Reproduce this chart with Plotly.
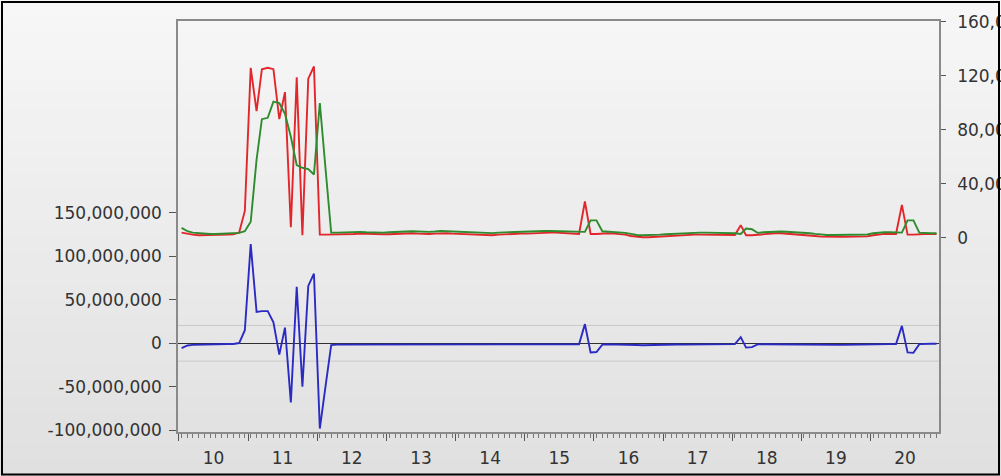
import plotly.graph_objects as go

# ---------------- data (values in millions) ----------------
YEARS = list(range(2010, 2021))
MONTHS = [f"{y}-{m:02d}-15" for y in YEARS for m in range(1, 13)]

ACTUAL = [
    4.0, 3.0, 2.5, 2.0, 2.0, 2.0, 2.2, 2.2, 2.5, 2.8, 4.0, 20.0,          # 2010
    126, 94, 125, 126, 125, 88, 108, 8, 119, 2, 118, 127,                 # 2011
    2.5, 2.5, 2.5, 2.8, 3.0, 3.0, 3.0, 3.2, 3.0, 3.0, 2.8, 2.8,           # 2012
    2.8, 3.0, 3.2, 3.5, 3.5, 3.2, 3.0, 3.0, 3.2, 3.5, 3.5, 3.2,           # 2013
    3.0, 2.8, 2.5, 2.2, 2.0, 1.8, 2.0, 2.5, 2.8, 3.0, 3.0, 3.2,           # 2014
    3.2, 3.5, 3.5, 3.8, 4.0, 4.0, 3.8, 3.5, 3.2, 3.0, 27.0, 3.0,          # 2015
    3.0, 3.5, 3.5, 3.2, 3.0, 2.5, 1.5, 0.8, 0.5, 0.5, 0.8, 1.0,           # 2016
    1.2, 1.5, 2.0, 2.2, 2.5, 2.5, 2.5, 2.5, 2.5, 2.5, 2.3, 2.2,           # 2017
    2.2, 9.5, 2.0, 2.0, 2.5, 3.0, 3.2, 3.5, 3.5, 3.2, 3.0, 2.8,           # 2018
    2.5, 2.0, 1.5, 1.0, 0.8, 0.8, 0.8, 0.8, 0.8, 1.0, 1.0, 1.2,           # 2019
    2.0, 2.8, 3.0, 3.0, 3.0, 24.5, 2.5, 2.5, 3.0, 3.0, 3.0, 3.0,          # 2020
]
FITTED = [
    7.5, 5.0, 4.0, 3.5, 3.2, 3.0, 3.0, 3.2, 3.2, 3.5, 3.8, 5.0,           # 2010
    12, 58, 88, 89, 101, 100, 92, 75, 54, 52, 51, 47,                     # 2011
    100, 50, 4.0, 4.0, 4.2, 4.2, 4.5, 4.5, 4.2, 4.0, 4.0, 4.0,            # 2012
    4.2, 4.5, 4.8, 5.0, 5.0, 4.8, 4.5, 4.5, 4.8, 5.2, 5.0, 4.8,           # 2013
    4.5, 4.2, 4.0, 3.8, 3.5, 3.5, 3.6, 4.0, 4.2, 4.5, 4.5, 4.6,           # 2014
    4.6, 4.8, 5.0, 5.2, 5.2, 5.0, 4.8, 4.6, 4.4, 4.2, 4.5, 13.0,          # 2015
    13.0, 5.0, 4.8, 4.5, 4.2, 3.8, 3.0, 2.2, 2.0, 2.0, 2.2, 2.5,          # 2016
    2.8, 3.0, 3.5, 3.8, 4.0, 4.0, 4.0, 4.0, 4.0, 4.0, 3.8, 3.6,           # 2017
    3.5, 3.0, 7.0, 6.5, 3.8, 4.2, 4.5, 4.8, 4.8, 4.6, 4.4, 4.2,           # 2018
    4.0, 3.5, 3.0, 2.5, 2.2, 2.2, 2.2, 2.2, 2.2, 2.4, 2.4, 2.6,           # 2019
    3.5, 4.0, 4.2, 4.2, 4.2, 4.0, 13.0, 13.0, 4.0, 3.5, 3.5, 3.5,         # 2020
]
RESIDUAL = [
    -5.5, -2.5, -1.8, -1.5, -1.3, -1.2, -1.0, -1.0, -0.8, -0.8, 0.3, 15.0,     # 2010
    114, 36, 37, 37, 24, -13, 18, -68, 65, -50, 66, 80,                        # 2011
    -98, -48, -2.0, -1.5, -1.5, -1.3, -1.5, -1.3, -1.2, -1.0, -1.2, -1.2,      # 2012
    -1.4, -1.5, -1.6, -1.5, -1.5, -1.6, -1.5, -1.5, -1.6, -1.7, -1.5, -1.6,    # 2013
    -1.5, -1.4, -1.5, -1.6, -1.5, -1.7, -1.6, -1.5, -1.4, -1.5, -1.5, -1.4,    # 2014
    -1.4, -1.3, -1.5, -1.4, -1.2, -1.0, -1.0, -1.1, -1.2, -1.2, 22.0, -10.5,   # 2015
    -10.0, -1.5, -1.3, -1.3, -1.2, -1.3, -1.5, -2.0, -2.2, -2.0, -1.6, -1.5,   # 2016
    -1.6, -1.5, -1.4, -1.5, -1.5, -1.4, -1.5, -1.5, -1.6, -1.7, -1.5, -1.2,    # 2017
    -1.0, 7.0, -5.0, -4.5, -1.3, -1.2, -1.3, -1.3, -1.3, -1.4, -1.4, -1.4,     # 2018
    -1.5, -1.6, -1.8, -2.0, -2.2, -2.0, -1.8, -1.8, -1.8, -1.6, -1.5, -1.4,    # 2019
    -1.2, -1.0, -1.0, -1.0, -0.8, 20.0, -10.5, -11.0, -1.0, -0.5, -0.5, -0.5,  # 2020
]
SE = 20.5  # standard error of regression, millions

LEFT_TICK_VALUES = [-100, -50, 0, 50, 100, 150]
LEFT_TICK_TEXT = ["-100,000,000", "-50,000,000", "0", "50,000,000",
                  "100,000,000", "150,000,000"]
RIGHT_TICK_VALUES = [0, 40, 80, 120, 160]
RIGHT_TICK_TEXT = ["0", "40,000,000", "80,000,000", "120,000,000", "160,000,000"]

# ---------------- layout geometry ----------------
W, H = 1001, 476
ML, MR, MT, MB = 178, 62, 21, 44
PW, PH = W - ML - MR, H - MT - MB


def px_x(p):
    return (p - ML) / PW


def px_y(p):
    return (H - MB - p) / PH


TEXT = "#333333"
FONT = dict(family="DejaVu Sans", size=17, color=TEXT)
FRAME = "#8a8a8a"

fig = go.Figure()
fig.add_trace(go.Scatter(x=MONTHS, y=RESIDUAL, name="Residual", mode="lines",
                         line=dict(color="#2b2bc4", width=1.9), yaxis="y"))
fig.add_trace(go.Scatter(x=MONTHS, y=ACTUAL, name="Actual", mode="lines",
                         line=dict(color="#e3262b", width=1.9), yaxis="y2"))
fig.add_trace(go.Scatter(x=MONTHS, y=FITTED, name="Fitted", mode="lines",
                         line=dict(color="#2e8b2e", width=1.9), yaxis="y2"))

shapes = []
# background gradient of the outer panel
n = 30
top, bot = px_y(0), px_y(H)
for k in range(n):
    c0 = (247, 247, 247)
    c1 = (224, 224, 224)
    t = k / (n - 1)
    col = tuple(round(a + (b - a) * t) for a, b in zip(c0, c1))
    y0 = top - (top - bot) * k / n
    y1 = top - (top - bot) * (k + 1) / n
    shapes.append(dict(type="rect", xref="paper", yref="paper",
                       x0=px_x(0), x1=px_x(W), y0=y1, y1=y0 + 0.002,
                       fillcolor="rgb(%d,%d,%d)" % col, line=dict(width=0),
                       layer="below"))
# +/- 1 S.E. lines
for v in (SE, -SE):
    shapes.append(dict(type="line", xref="paper", yref="y", x0=0, x1=1,
                       y0=v, y1=v, line=dict(color="#c8c8c8", width=1),
                       layer="below"))
# outer black border
shapes.append(dict(type="rect", xref="paper", yref="paper",
                   x0=px_x(2), x1=px_x(999), y0=px_y(474.5), y1=px_y(2),
                   line=dict(color="black", width=2), fillcolor="rgba(0,0,0,0)",
                   layer="above"))

fig.update_layout(
    width=W, height=H,
    margin=dict(l=ML, r=MR, t=MT, b=MB, pad=0),
    paper_bgcolor="#ececec",
    plot_bgcolor="white",
    showlegend=False,
    font=FONT,
    shapes=shapes,
    xaxis=dict(
        type="date",
        range=["2009-12-27", "2020-12-28"],
        tick0="2010-01-01", dtick="M12", tickformat="%y",
        ticklabelmode="period",
        ticks="outside", ticklen=7, tickwidth=1, tickcolor="#555555",
        minor=dict(dtick="M1", tick0="2010-01-15", ticks="outside",
                   ticklen=4, tickwidth=1, tickcolor="#777777", showgrid=False),
        showline=True, linecolor=FRAME, linewidth=1.5, mirror=True,
        showgrid=False, zeroline=False, automargin=False,
        tickfont=FONT, ticklabelstandoff=3,
    ),
    yaxis=dict(
        range=[-102, 370.5],
        tickmode="array", tickvals=LEFT_TICK_VALUES, ticktext=LEFT_TICK_TEXT,
        ticks="outside", ticklen=7, tickcolor="#555555",
        showline=True, linecolor=FRAME, linewidth=1.5, mirror=True,
        showgrid=False, zeroline=True, zerolinecolor="#303030", zerolinewidth=1,
        automargin=False, tickfont=FONT, ticklabelstandoff=4,
    ),
    yaxis2=dict(
        range=[-143.7, 160.7], overlaying="y", side="right",
        tickmode="array", tickvals=RIGHT_TICK_VALUES, ticktext=RIGHT_TICK_TEXT,
        ticks="outside", ticklen=5, tickcolor="#555555",
        showline=True, linecolor=FRAME, linewidth=1.5,
        showgrid=False, zeroline=False, automargin=False,
        tickfont=FONT, ticklabelstandoff=8,
    ),
)

fig.write_html("out.html",
               config={"displayModeBar": False},
               post_script="document.body.style.margin='0px';"
                           "document.body.style.overflow='hidden';")
